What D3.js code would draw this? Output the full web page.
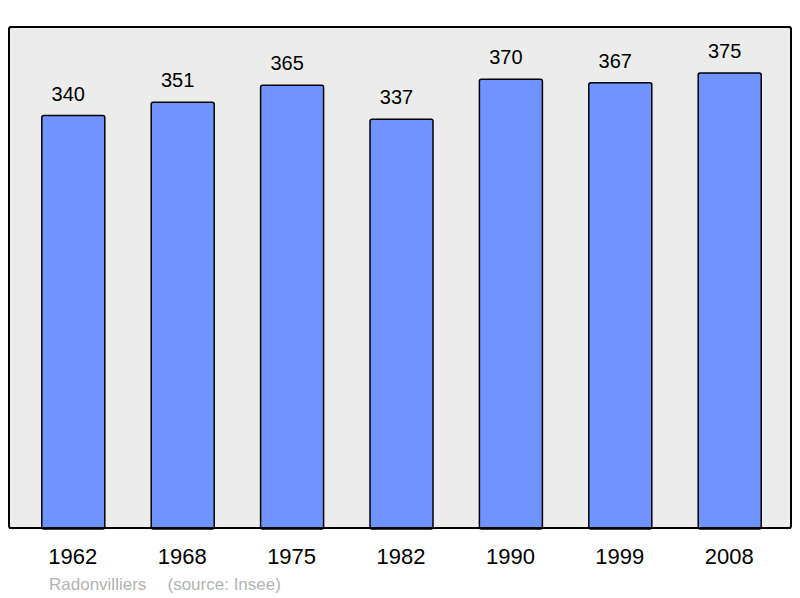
<!DOCTYPE html>
<html><head><meta charset="utf-8">
<script src="https://cdn.jsdelivr.net/npm/d3@7"></script>
<style>body{margin:0;background:#fff}svg{display:block}</style>
</head><body>
<script>
const years = ["1962","1968","1975","1982","1990","1999","2008"];
const population = [340,351,365,337,370,367,375];
const captionName = "Radonvilliers";
const captionSource = "(source: Insee)";

const W = 800, H = 598;
const svg = d3.select("body").append("svg").attr("width", W).attr("height", H);
const frame = {x0: 9, y0: 27, x1: 791, y1: 528};
const font = "Liberation Sans, Arial, sans-serif";

svg.append("rect").attr("x", frame.x0).attr("y", frame.y0)
  .attr("width", frame.x1 - frame.x0).attr("height", frame.y1 - frame.y0)
  .attr("rx", 2).attr("fill", "#ececec").attr("stroke", "#000").attr("stroke-width", 2);

const x = d3.scalePoint().domain(years).range([73.3, 729.7]);
const y = d3.scaleLinear().domain([0, 413]).range([frame.y1, frame.y0]);
const bw = 63;

const g = svg.append("g");
g.selectAll("rect.bar").data(years).join("rect").attr("class","bar")
  .attr("x", d => x(d) - bw/2).attr("width", bw)
  .attr("y", (d,i) => y(population[i])).attr("height", (d,i) => frame.y1 - y(population[i]) + 1)
  .attr("rx", 2).attr("fill", "#7094ff").attr("stroke", "#000").attr("stroke-width", 1.5);

svg.append("line").attr("x1", frame.x0).attr("x2", frame.x1).attr("y1", frame.y1).attr("y2", frame.y1)
  .attr("stroke", "#000").attr("stroke-width", 2);

g.selectAll("text.val").data(years).join("text").attr("class","val")
  .attr("x", d => x(d) - 5).attr("y", (d,i) => y(population[i]) - 15)
  .attr("text-anchor","middle").attr("font-family", font)
  .attr("font-size", 20).attr("fill","#000").text((d,i) => population[i]);

const xAxis = d3.axisBottom(x).tickSize(0).tickPadding(0);
const ax = svg.append("g").attr("transform", `translate(0,${frame.y1})`).call(xAxis);
ax.select(".domain").remove();
ax.selectAll("text").attr("dy", null).attr("y", 36).attr("x", -1)
  .attr("font-family", font).attr("font-size", 22).attr("fill","#000");

svg.append("text").attr("x", 49).attr("y", 590)
  .attr("font-family", font).attr("font-size", 17).attr("fill","#b3b3b3").text(captionName);
svg.append("text").attr("x", 167.5).attr("y", 590)
  .attr("font-family", font).attr("font-size", 17).attr("fill","#b3b3b3").text(captionSource);
</script>
</body></html>
